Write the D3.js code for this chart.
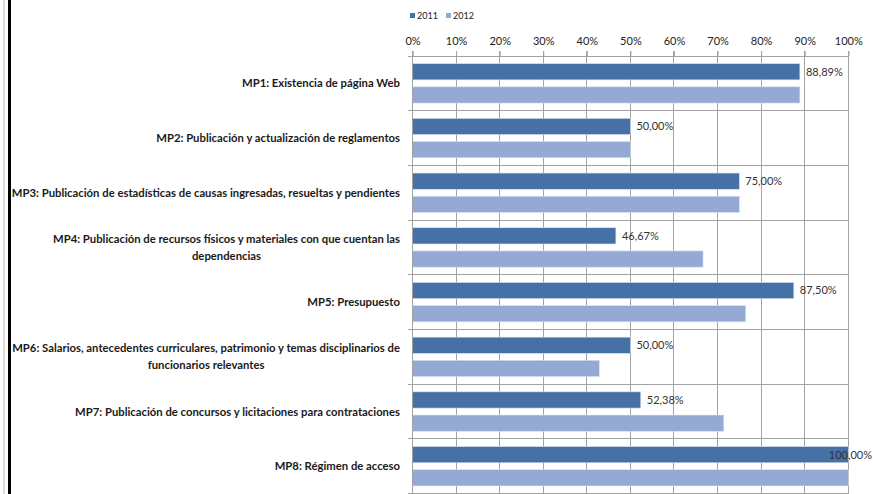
<!DOCTYPE html>
<html><head><meta charset="utf-8">
<script src="https://cdn.jsdelivr.net/npm/d3@7"></script>
<style>body{margin:0;background:#fff;} svg{display:block;}</style>
</head><body>
<svg id="c" width="873" height="494"></svg>
<script>
const categories = [
  ["MP1: Existencia de página Web"],
  ["MP2: Publicación y actualización de reglamentos"],
  ["MP3: Publicación de estadísticas de causas ingresadas, resueltas y pendientes"],
  ["MP4: Publicación de recursos físicos y materiales con que cuentan las", "dependencias"],
  ["MP5: Presupuesto"],
  ["MP6: Salarios, antecedentes curriculares, patrimonio y temas disciplinarios de", "funcionarios relevantes"],
  ["MP7: Publicación de concursos y licitaciones para contrataciones"],
  ["MP8: Régimen de acceso"]
];
const series = ["2011", "2012"];
const values2011 = [88.89, 50.00, 75.00, 46.67, 87.50, 50.00, 52.38, 100.00];
const values2012 = [88.89, 50.00, 75.00, 66.67, 76.47, 42.86, 71.43, 100.00];
const xTicks = [0,10,20,30,40,50,60,70,80,90,100];
const colors = ["#4571a6", "#94a9d3"];

const svg = d3.select("#c");
const font = "Lato, 'Open Sans', sans-serif";

// frame
svg.append("rect").attr("x",3).attr("y",0).attr("width",2).attr("height",494).attr("fill","#dedede");
svg.append("rect").attr("x",8).attr("y",0).attr("width",3).attr("height",494).attr("fill","#000");

const x = d3.scaleLinear().domain([0,100]).range([412.5, 848.3]);
const idx = categories.map((d,i)=>i);
const y = d3.scaleBand().domain(idx).range([56, 56+8*54.7]);
const ySub = d3.scaleBand().domain(series).range([0, y.bandwidth()]).paddingInner(0.3).paddingOuter(0.33);

const grid = "#a3a3a3";
svg.append("g").selectAll("line").data(xTicks).join("line")
  .attr("x1",d=>x(d)).attr("x2",d=>x(d)).attr("y1",51).attr("y2",494)
  .attr("stroke",grid).attr("stroke-width",1).attr("shape-rendering","crispEdges");
svg.append("g").selectAll("line").data(d3.range(9)).join("line")
  .attr("x1",408).attr("x2",x(100)).attr("y1",d=>56+d*y.step()).attr("y2",d=>56+d*y.step())
  .attr("stroke",grid).attr("stroke-width",1).attr("shape-rendering","crispEdges");

const ax = svg.append("g").attr("transform","translate(0,56)")
  .call(d3.axisTop(x).tickValues(xTicks).tickFormat(d=>d+"%").tickSize(5).tickPadding(6));
ax.select(".domain").attr("stroke",grid);
ax.selectAll(".tick line").attr("stroke",grid);
ax.selectAll("text").attr("font-family",font).attr("font-size",11).attr("fill","#222");

const data = [];
idx.forEach(i=>{ data.push({i, s:"2011", v:values2011[i]}); data.push({i, s:"2012", v:values2012[i]}); });
svg.append("g").selectAll("rect").data(data).join("rect")
  .attr("x",x(0)).attr("y",d=>y(d.i)+ySub(d.s))
  .attr("width",d=>x(d.v)-x(0)).attr("height",ySub.bandwidth())
  .attr("fill",d=>colors[series.indexOf(d.s)])
  .attr("stroke","#d9e2f0").attr("stroke-width",0.6);

svg.append("line").attr("x1",x(0)).attr("x2",x(0)).attr("y1",51).attr("y2",494)
  .attr("stroke",grid).attr("shape-rendering","crispEdges");

svg.append("g").selectAll("text").data(idx).join("text")
  .attr("font-family",font).attr("font-size",11).attr("fill","#333")
  .attr("y",i=>y(i)+ySub("2011")+ySub.bandwidth()/2).attr("dy","0.35em")
  .text(i=>values2011[i].toFixed(2).replace(".",",")+"%")
  .each(function(i){
    const w = this.getComputedTextLength();
    let px = x(values2011[i]) + 6;
    if (px + w > 872) px = 872 - w;
    d3.select(this).attr("x", px);
  });

const lab = svg.append("g").attr("font-family",font).attr("font-size",11.3).attr("font-weight","bold").attr("fill","#1a1a1a");
idx.forEach(i=>{
  const lines = categories[i];
  const cy = y(i)+y.bandwidth()/2;
  const lh = 17;
  if (lines.length === 1) {
    lab.append("text").attr("x",400).attr("y",cy).attr("dy","0.35em").attr("text-anchor","end").text(lines[0]);
  } else {
    const t1 = lab.append("text").attr("x",400).attr("y",cy-lh/2).attr("dy","0.35em").attr("text-anchor","end").text(lines[0]);
    const w1 = t1.node().getComputedTextLength();
    lab.append("text").attr("x",400-w1/2).attr("y",cy+lh/2).attr("dy","0.35em").attr("text-anchor","middle").text(lines[1]);
  }
});

const lg = svg.append("g").attr("font-family",font).attr("font-size",9).attr("fill","#222");
series.forEach((s,k)=>{
  const lx = 410 + k*36;
  lg.append("rect").attr("x",lx).attr("y",13).attr("width",5).attr("height",5).attr("fill",colors[k]);
  lg.append("text").attr("x",lx+7).attr("y",16).attr("dy","0.35em").text(s);
});
</script>
</body></html>
